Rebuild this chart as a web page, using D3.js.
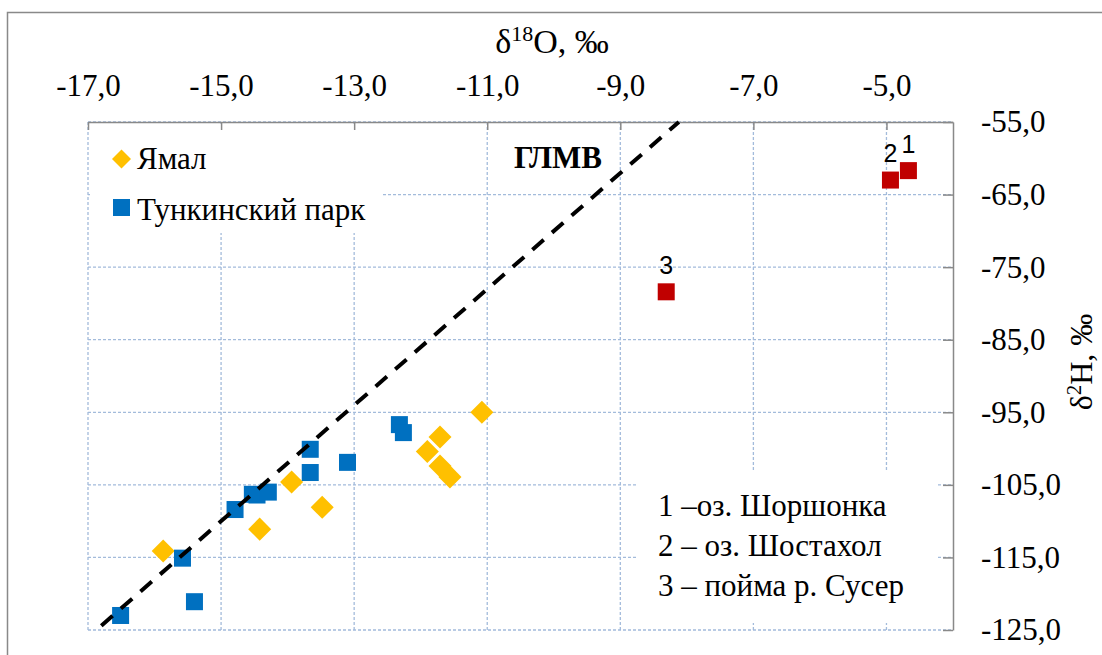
<!DOCTYPE html>
<html>
<head>
<meta charset="utf-8">
<script src="https://d3js.org/d3.v7.min.js"></script>
<style>
	body { margin: 0; background: #fff; }
	text { font-family: "Liberation Serif", "Times New Roman", serif; fill: #000; }
</style>
</head>
<body>
<div id="chart"></div>
<script>

// Ямал
var yamalX = [-15.87, -14.42, -13.94, -13.48, -11.08, -11.71, -11.90, -11.71, -11.56];
var yamalY = [-114.1, -111.1, -104.6, -108.1, -95.0, -98.4, -100.4, -102.4, -103.9];

// Тункинский парк
var tunkaX = [-16.51, -15.58, -15.40, -14.79, -14.53, -14.46, -14.29, -13.66, -13.66, -13.10, -12.32, -12.26];
var tunkaY = [-123.0, -115.1, -121.1, -108.4, -106.3, -106.4, -106.0, -100.1, -103.3, -101.9, -96.7, -97.8];

// numbered points (1, 2, 3)
var lakeX = [-4.67, -4.94, -8.31];
var lakeY = [-61.7, -63.0, -78.4];
var lakeLabels = ["1", "2", "3"];

// ГЛМВ line ends
var gmwlX = [-16.8, -8.12];
var gmwlY = [-124.4, -55.0];

var xTicks = [-17, -15, -13, -11, -9, -7, -5];
var yTicks = [-125, -115, -105, -95, -85, -75, -65, -55];

var seriesNames = ["Ямал", "Тункинский парк"];
var notes = ["1 –оз. Шоршонка", "2 – оз. Шостахол", "3 – пойма р. Сусер"];

var chart = {
	width: 1102,
	height: 655,
	left: 88,
	right: 953,
	top: 122,
	bottom: 630,
	font: '31px'
};

var locale = d3.formatLocale({decimal: ",", thousands: " ", grouping: [3], currency: ["", ""], minus: "-"});
var fmt = locale.format(".1f");

var svg = d3.select('#chart')
	.append('svg')
	.attr('width', chart.width)
	.attr('height', chart.height);

svg.append('rect')
	.attr('width', chart.width)
	.attr('height', chart.height)
	.attr('fill', '#fff');

// outer frame
svg.append('rect')
	.attr('x', 7.5)
	.attr('y', 12.5)
	.attr('width', 1100)
	.attr('height', 700)
	.attr('fill', 'none')
	.style('stroke', '#898989')
	.style('stroke-width', 1.5);

var xScale = d3.scaleLinear()
	.domain([-17, -4])
	.range([chart.left, chart.right]);

var yScale = d3.scaleLinear()
	.domain([-125, -55])
	.range([chart.bottom, chart.top]);

// grid
var grid = svg.append('g')
	.attr('class', 'grid')
	.style('stroke', '#a3bbdb')
	.style('stroke-width', 1.3)
	.style('stroke-dasharray', '3,2');

grid.selectAll('.vgrid')
	.data(xTicks)
	.enter().append('line')
	.attr('x1', function (d) { return xScale(d); })
	.attr('x2', function (d) { return xScale(d); })
	.attr('y1', chart.top)
	.attr('y2', chart.bottom);

grid.selectAll('.hgrid')
	.data(yTicks)
	.enter().append('line')
	.attr('x1', chart.left)
	.attr('x2', chart.right)
	.attr('y1', function (d) { return yScale(d); })
	.attr('y2', function (d) { return yScale(d); });

// white boxes behind legend and notes
svg.append('rect')
	.attr('x', 90).attr('y', 124)
	.attr('width', 293).attr('height', 109)
	.attr('fill', '#fff');

svg.append('rect')
	.attr('x', 638).attr('y', 472)
	.attr('width', 299).attr('height', 151)
	.attr('fill', '#fff');

// axes
var xAxis = d3.axisTop(xScale)
	.tickValues(xTicks)
	.tickFormat(fmt)
	.tickSizeInner(-8)
	.tickSizeOuter(0)
	.tickPadding(26);

var yAxis = d3.axisRight(yScale)
	.tickValues(yTicks)
	.tickFormat(fmt)
	.tickSizeInner(-10)
	.tickSizeOuter(0)
	.tickPadding(28);

svg.append('g')
	.attr('class', 'x-axis')
	.attr('transform', 'translate(0,' + chart.top + ')')
	.call(xAxis);

svg.append('g')
	.attr('class', 'y-axis')
	.attr('transform', 'translate(' + chart.right + ',0)')
	.call(yAxis);

svg.selectAll('.x-axis path, .y-axis path, .x-axis line, .y-axis line')
	.style('stroke', '#898989')
	.style('stroke-width', 1.5);

svg.selectAll('.x-axis text, .y-axis text')
	.style('font-family', '"Liberation Serif", serif')
	.style('font-size', chart.font)
	.style('fill', '#000');

// markers
var diamond = d3.symbol().type(d3.symbolSquare).size(265);

svg.append('g').selectAll('path')
	.data(yamalX)
	.enter().append('path')
	.attr('d', diamond)
	.attr('fill', '#ffc000')
	.attr('transform', function (d, i) {
		return 'translate(' + xScale(d) + ',' + yScale(yamalY[i]) + ') rotate(45)';
	});

svg.append('g').selectAll('rect')
	.data(tunkaX)
	.enter().append('rect')
	.attr('x', function (d) { return xScale(d) - 8.5; })
	.attr('y', function (d, i) { return yScale(tunkaY[i]) - 8.5; })
	.attr('width', 17)
	.attr('height', 17)
	.attr('fill', '#0070c0');

svg.append('g').selectAll('rect')
	.data(lakeX)
	.enter().append('rect')
	.attr('x', function (d) { return xScale(d) - 8.5; })
	.attr('y', function (d, i) { return yScale(lakeY[i]) - 8.5; })
	.attr('width', 17)
	.attr('height', 17)
	.attr('fill', '#c00000');

svg.append('g').selectAll('text')
	.data(lakeX)
	.enter().append('text')
	.attr('x', function (d) { return xScale(d); })
	.attr('y', function (d, i) { return yScale(lakeY[i]) - 18; })
	.attr('text-anchor', 'middle')
	.style('font-family', '"Liberation Sans", Arial, sans-serif')
	.style('font-size', '25px')
	.text(function (d, i) { return lakeLabels[i]; });

// ГЛМВ line
var line = d3.line()
	.x(function (d) { return xScale(d); })
	.y(function (d, i) { return yScale(gmwlY[i]); });

svg.append('path')
	.datum(gmwlX)
	.attr('d', line)
	.attr('fill', 'none')
	.style('stroke', '#000')
	.style('stroke-width', 4)
	.style('stroke-dasharray', '15,11');

svg.append('text')
	.attr('x', 558)
	.attr('y', 168)
	.attr('text-anchor', 'middle')
	.style('font-size', chart.font)
	.style('font-weight', 'bold')
	.text('ГЛМВ');

// legend
var legend = svg.append('g').attr('class', 'legend');

legend.append('path')
	.attr('d', d3.symbol().type(d3.symbolSquare).size(180))
	.attr('fill', '#ffc000')
	.attr('transform', 'translate(121.5,159) rotate(45)');

legend.append('rect')
	.attr('x', 113).attr('y', 199)
	.attr('width', 17).attr('height', 17)
	.attr('fill', '#0070c0');

legend.selectAll('text')
	.data(seriesNames)
	.enter().append('text')
	.attr('x', 137)
	.attr('y', function (d, i) { return 169 + i * 51; })
	.style('font-size', chart.font)
	.text(function (d) { return d; });

// notes
svg.append('g').selectAll('text')
	.data(notes)
	.enter().append('text')
	.attr('x', 658)
	.attr('y', function (d, i) { return 516 + i * 40; })
	.style('font-size', chart.font)
	.text(function (d) { return d; });

// axis titles
var xt = svg.append('text')
	.attr('x', 552)
	.attr('y', 53)
	.attr('text-anchor', 'middle')
	.style('font-size', '34px');
xt.append('tspan').text('δ');
xt.append('tspan').attr('dy', -12).style('font-size', '22px').text('18');
xt.append('tspan').attr('dy', 12).text('O, ‰');

var yt = svg.append('text')
	.attr('transform', 'translate(1092,362) rotate(-90)')
	.attr('text-anchor', 'middle')
	.style('font-size', '32px');
yt.append('tspan').text('δ');
yt.append('tspan').attr('dy', -11).style('font-size', '21px').text('2');
yt.append('tspan').attr('dy', 11).text('H, ‰');

</script>
</body>
</html>
